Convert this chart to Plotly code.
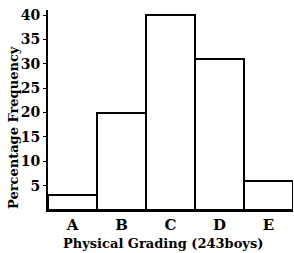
import plotly.graph_objects as go

grades = ["A", "B", "C", "D", "E"]
percent = [3, 20, 40, 31, 6]
y_ticks = [5, 10, 15, 20, 25, 30, 35, 40]
x_title = "Physical Grading (243boys)"
y_title = "Percentage Frequency"

fig = go.Figure(go.Bar(
    x=grades, y=percent,
    marker=dict(color="white", line=dict(color="black", width=2)),
    width=1.0,
))

font_serif = "DejaVu Serif, Liberation Serif, serif"
fig.update_layout(
    width=294, height=253,
    margin=dict(l=48, r=1, t=10, b=43),
    paper_bgcolor="white", plot_bgcolor="white",
    bargap=0, showlegend=False,
    font=dict(family=font_serif, color="black"),
    annotations=[
        dict(text=x_title, xref="paper", yref="paper", x=0.47, y=0,
             yshift=-33, showarrow=False, yanchor="middle",
             font=dict(size=13, family=font_serif, weight="bold")),
        dict(text=y_title, xref="paper", yref="paper", x=0, y=0.41,
             xshift=-35, showarrow=False, textangle=-90, xanchor="center",
             font=dict(size=13, family=font_serif, weight="bold")),
    ],
)
fig.update_xaxes(
    range=[-0.5, 4.5], showgrid=False, zeroline=False, automargin=False,
    showline=True, linecolor="black", linewidth=2,
    ticks="", tickfont=dict(size=15, family=font_serif, weight="bold"),
)
fig.update_yaxes(
    range=[0, 41.03], showgrid=False, zeroline=False, automargin=False,
    showline=True, linecolor="black", linewidth=2,
    tickvals=y_ticks, ticks="outside", ticklen=3, tickcolor="black",
    tickfont=dict(size=14, family=font_serif, weight="bold"),
)
fig.write_html("out.html", config={"displayModeBar": False},
               post_script="document.body.style.margin='0';")
